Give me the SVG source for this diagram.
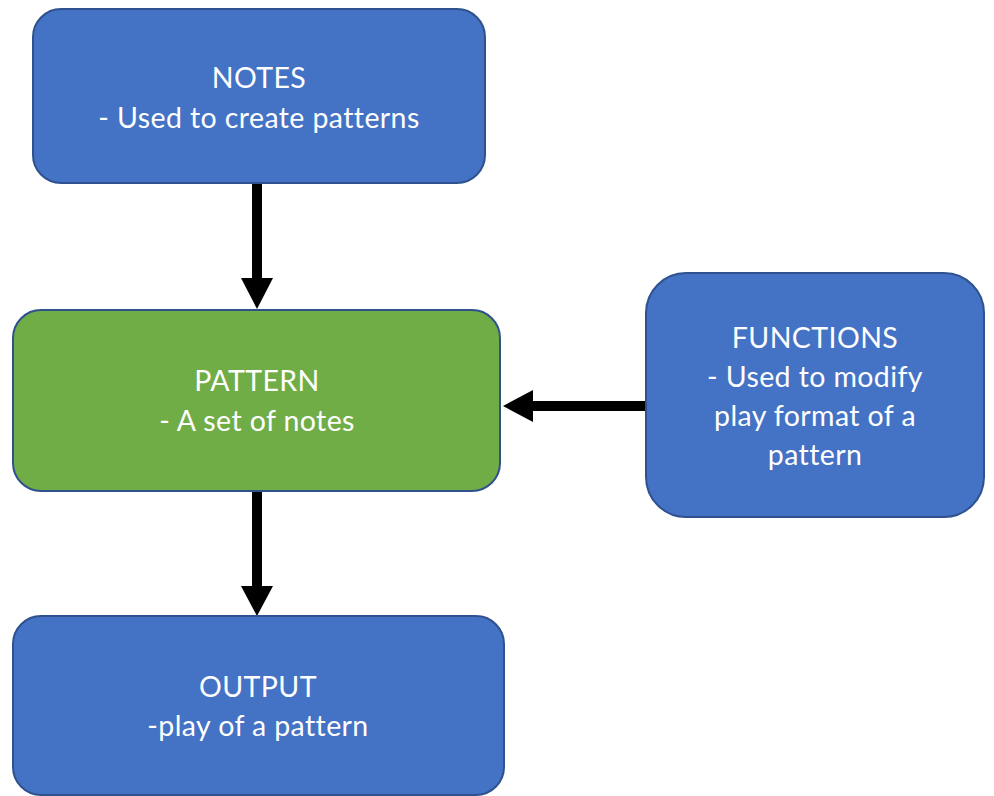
<svg xmlns="http://www.w3.org/2000/svg" width="994" height="796" viewBox="0 0 994 796">
<style>
.box{stroke:#2F528F;stroke-width:2}
.blue{fill:#4472C4}
.green{fill:#70AD47}
.t{font-family:Lato,"Liberation Sans",sans-serif;font-size:28.5px;letter-spacing:0.4px;fill:#FFFFFF;text-anchor:middle}
.shaft{stroke:#000;stroke-width:10;fill:none}
.head{fill:#000}
</style>
<rect width="994" height="796" fill="#FFFFFF"/>
<g id="connectors">
<line class="shaft" x1="257" y1="183" x2="257" y2="280"/>
<polygon class="head" points="241,278 273,278 257,309"/>
<line class="shaft" x1="257" y1="491" x2="257" y2="588"/>
<polygon class="head" points="241,586 273,586 257,616"/>
<line class="shaft" x1="646" y1="406" x2="531" y2="406"/>
<polygon class="head" points="533,390 533,422 503,406"/>
</g>
<g id="notes">
<rect class="box blue" x="33" y="9" width="452" height="174" rx="28"/>
<text class="t" x="259" y="88">NOTES</text>
<text class="t" x="259" y="128">- Used to create patterns</text>
</g>
<g id="pattern">
<rect class="box green" x="13" y="310" width="487" height="181" rx="28"/>
<text class="t" x="257" y="391">PATTERN</text>
<text class="t" x="257" y="431">- A set of notes</text>
</g>
<g id="functions">
<rect class="box blue" x="646" y="273" width="338" height="244" rx="40"/>
<text class="t" x="815" y="348">FUNCTIONS</text>
<text class="t" x="815" y="387">- Used to modify</text>
<text class="t" x="815" y="426">play format of a</text>
<text class="t" x="815" y="465">pattern</text>
</g>
<g id="output">
<rect class="box blue" x="13" y="616" width="491" height="179" rx="28"/>
<text class="t" x="258" y="697">OUTPUT</text>
<text class="t" x="258" y="736">-play of a pattern</text>
</g>
</svg>
